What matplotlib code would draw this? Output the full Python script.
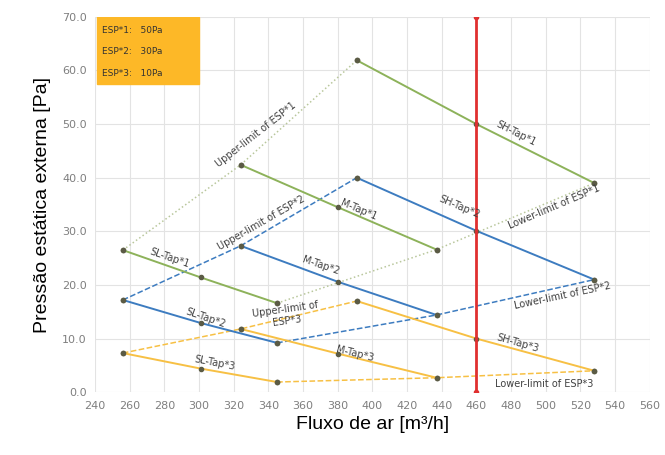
import matplotlib
matplotlib.use('Agg')
import matplotlib.pyplot as pl

# taps (solid)
sl_x = [256, 301, 345]
m_x = [324, 380, 437]
sh_x = [391, 460, 528]

sl1 = [26.5, 21.4, 16.6]
m1 = [42.4, 34.5, 26.6]
sh1 = [61.9, 50.0, 39.0]

sl2 = [17.2, 12.9, 9.2]
m2 = [27.3, 20.6, 14.4]
sh2 = [40.0, 30.1, 21.0]

sl3 = [7.3, 4.4, 1.9]
m3 = [11.8, 7.2, 2.7]
sh3 = [17.0, 10.0, 4.0]

# limits (dashed) run through the tap endpoints
lim_upper_x = [256, 324, 391]
lim_lower_x = [345, 437, 528]
upper1 = [26.5, 42.4, 61.9]
lower1 = [16.6, 26.6, 39.0]
upper2 = [17.2, 27.3, 40.0]
lower2 = [9.2, 14.4, 21.0]
upper3 = [7.3, 11.8, 17.0]
lower3 = [1.9, 2.7, 4.0]

design_flow = 460
legend_lines = ['ESP*1:   50Pa', 'ESP*2:   30Pa', 'ESP*3:   10Pa']

GREEN = '#8db25a'
GREEN_L = '#b9c79c'
BLUE = '#3d7cc0'
ORANGE = '#f7c044'
MARK = '#5b5b45'
TXT = '#404040'


def tap(ax, x, y, color):
    ax.plot(x, y, '-', color=color, lw=1.4, marker='o', ms=3,
            mfc=MARK, mec=MARK, zorder=3)


def limit(ax, x, y, color, ls):
    ax.plot(x, y, ls=ls, color=color, lw=1.1, marker='o', ms=3,
            mfc=MARK, mec=MARK, zorder=2)


def label(ax, x, y, s, rot):
    ax.text(x, y, s, rotation=rot, fontsize=7, color=TXT, ha='center',
            va='center', rotation_mode='anchor', zorder=5)


def main():
    fig = pl.figure(figsize=(6.65, 4.55), dpi=100)
    ax = fig.add_axes([0.143, 0.138, 0.834, 0.825])

    limit(ax, lim_upper_x, upper1, GREEN_L, ':')
    limit(ax, lim_lower_x, lower1, GREEN_L, ':')
    limit(ax, lim_upper_x, upper2, BLUE, '--')
    limit(ax, lim_lower_x, lower2, BLUE, '--')
    limit(ax, lim_upper_x, upper3, ORANGE, '--')
    limit(ax, lim_lower_x, lower3, ORANGE, '--')

    tap(ax, sl_x, sl1, GREEN)
    tap(ax, m_x, m1, GREEN)
    tap(ax, sh_x, sh1, GREEN)
    tap(ax, sl_x, sl2, BLUE)
    tap(ax, m_x, m2, BLUE)
    tap(ax, sh_x, sh2, BLUE)
    tap(ax, sl_x, sl3, ORANGE)
    tap(ax, m_x, m3, ORANGE)
    tap(ax, sh_x, sh3, ORANGE)

    ax.plot([design_flow, design_flow], [0, 70], color='#e03030', lw=2,
            marker='o', ms=3, zorder=4)

    label(ax, 333, 48.0, 'Upper-limit of ESP*1', 38)
    label(ax, 283, 25.0, 'SL-Tap*1', -19)
    label(ax, 336, 31.5, 'Upper-limit of ESP*2', 30)
    label(ax, 392, 34.0, 'M-Tap*1', -23)
    label(ax, 370, 23.7, 'M-Tap*2', -19)
    label(ax, 483, 48.3, 'SH-Tap*1', -27)
    label(ax, 450, 34.6, 'SH-Tap*2', -23)
    label(ax, 505, 34.6, 'Lower-limit of ESP*1', 23)
    label(ax, 510, 18.0, 'Lower-limit of ESP*2', 12)
    label(ax, 304, 13.8, 'SL-Tap*2', -19)
    label(ax, 350, 14.4, 'Upper-limit of\nESP*3', 8)
    label(ax, 309, 5.4, 'SL-Tap*3', -11)
    label(ax, 390, 7.2, 'M-Tap*3', -14)
    label(ax, 484, 9.1, 'SH-Tap*3', -16)
    label(ax, 499, 1.6, 'Lower-limit of ESP*3', 0)

    ax.add_patch(pl.Rectangle((241, 57.4), 59, 12.5, color='#fdb827',
                              zorder=6))
    for i, s in enumerate(legend_lines):
        ax.text(244, 67.5 - i * 4.0, s, fontsize=6.5, color='#333333',
                va='center', zorder=7)

    ax.set_xlim(240, 560)
    ax.set_ylim(0, 70)
    ax.set_xticks(range(240, 561, 20))
    ax.set_yticks(range(0, 71, 10))
    ax.set_yticklabels(['%.1f' % v for v in range(0, 71, 10)])
    ax.tick_params(length=0, labelsize=8, colors='#7f7f7f', pad=6)
    ax.grid(True, color='#e3e3e3', lw=0.8)
    for sp in ax.spines.values():
        sp.set_visible(False)
    ax.set_xlabel('Fluxo de ar [m³/h]', fontsize=14, family='Liberation Sans')
    ax.set_ylabel('Pressão estática externa [Pa]', fontsize=14,
                  family='Liberation Sans', labelpad=8)

    fig.savefig('out.png', dpi=100)


if __name__ == '__main__':
    main()
